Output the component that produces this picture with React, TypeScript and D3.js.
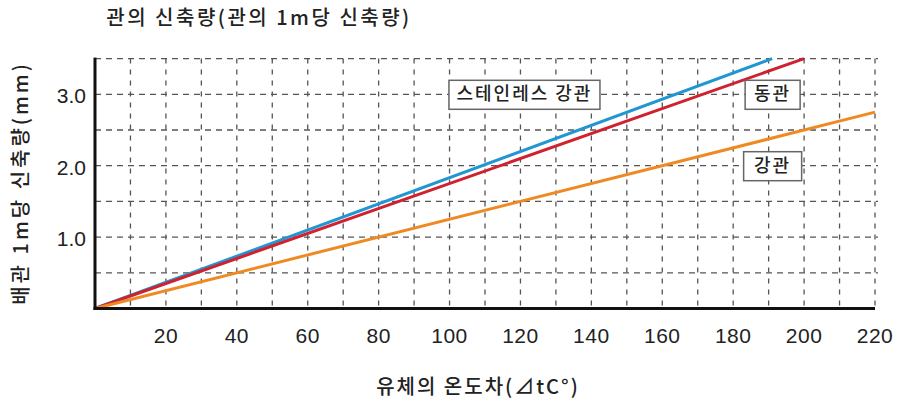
import React from "react";
import * as d3 from "d3";

const W = 899;
const H = 403;

const title = "관의 신축량(관의 1m당 신축량)";
const xTitle = "유체의 온도차(⊿tC°)";
const yTitle = "배관 1m당 신축량(mm)";

const xTickValues = [20, 40, 60, 80, 100, 120, 140, 160, 180, 200, 220];
const yTickValues = [1.0, 2.0, 3.0];
const xGridValues = [10, 20, 30, 40, 50, 60, 70, 80, 90, 100, 110, 120, 130, 140, 150, 160, 170, 180, 190, 200, 210, 220];
const yGridValues = [0.5, 1.0, 1.5, 2.0, 2.5, 3.0, 3.5];

const seriesNames = ["스테인레스 강관", "동관", "강관"];
const seriesColors = ["#2196d3", "#d0212e", "#ef8a22"];
const stainlessX = [0, 191];
const stainlessY = [0, 3.5];
const copperX = [0, 200];
const copperY = [0, 3.5];
const steelX = [0, 220];
const steelY = [0, 2.75];

const labelPos = [
  { x: 120, y: 3.0, w: 151 },
  { x: 190, y: 3.0, w: 55 },
  { x: 190, y: 2.0, w: 58 },
];

export default function App() {
  const x = d3.scaleLinear().domain([0, 220]).range([95, 875]);
  const y = d3.scaleLinear().domain([0, 3.0]).range([308.5, 94.3]);
  const line = d3
    .line<[number, number]>()
    .x((d) => x(d[0]))
    .y((d) => y(d[1]));

  const series = [
    { xs: stainlessX, ys: stainlessY },
    { xs: copperX, ys: copperY },
    { xs: steelX, ys: steelY },
  ];

  const font = "'Liberation Sans', Arial, sans-serif";
  const kfont = "'Noto Sans CJK KR', 'Noto Sans', sans-serif";
  const gridColor = "#555";

  return (
    <svg width={W} height={H} style={{ position: "absolute", left: 0, top: 0, background: "#fff" }}>
      <rect x={0} y={0} width={W} height={H} fill="#fff" />
      {/* grid */}
      {yGridValues.map((v) => (
        <line
          key={"hy" + v}
          x1={x(0)}
          x2={x(220) + 3}
          y1={y(v)}
          y2={y(v)}
          stroke={gridColor}
          strokeWidth={1.3}
          strokeDasharray="6 5"
        />
      ))}
      {xGridValues.map((v) => (
        <line
          key={"vx" + v}
          x1={x(v)}
          x2={x(v)}
          y1={y(3.5)}
          y2={y(0)}
          stroke={gridColor}
          strokeWidth={1.3}
          strokeDasharray="5 6"
        />
      ))}
      {/* lines */}
      {series.map((s, i) => (
        <path
          key={"s" + i}
          d={line(s.xs.map((xv, j) => [xv, s.ys[j]] as [number, number])) || ""}
          fill="none"
          stroke={seriesColors[i]}
          strokeWidth={3}
        />
      ))}
      {/* axes */}
      <line x1={x(0)} x2={x(0)} y1={y(3.5) - 1} y2={y(0) + 1.5} stroke="#111" strokeWidth={3} />
      <line x1={x(0) - 1.5} x2={x(220)} y1={y(0)} y2={y(0)} stroke="#111" strokeWidth={3} />
      {/* tick labels */}
      {xTickValues.map((v) => (
        <text
          key={"xt" + v}
          x={x(v)}
          y={343}
          textAnchor="middle"
          fontFamily={font}
          fontSize={21}
          fill="#222"
          letterSpacing={0.5}
        >
          {v}
        </text>
      ))}
      {yTickValues.map((v) => (
        <text
          key={"yt" + v}
          x={86}
          y={y(v) + 9}
          textAnchor="end"
          fontFamily={font}
          fontSize={21}
          fill="#222"
        >
          {v.toFixed(1)}
        </text>
      ))}
      {/* series labels */}
      {seriesNames.map((n, i) => {
        const p = labelPos[i];
        const cx = x(p.x) + 4;
        const cy = y(p.y);
        return (
          <g key={"lab" + i}>
            <rect
              x={cx - p.w / 2}
              y={cy - 14}
              width={p.w}
              height={29}
              fill="#fff"
              stroke="#666"
              strokeWidth={1.5}
            />
            <text
              x={cx}
              y={cy + 1}
              textAnchor="middle"
              dominantBaseline="middle"
              fontFamily={kfont}
              fontSize={18}
              fontWeight={500}
              letterSpacing={2}
              fill="#222"
            >
              {n}
            </text>
          </g>
        );
      })}
      {/* titles */}
      <text
        x={259}
        y={20}
        textAnchor="middle"
        dominantBaseline="middle"
        fontFamily={kfont}
        fontSize={20}
        fontWeight={500}
        letterSpacing={2.5}
        fill="#222"
      >
        {title}
      </text>
      <text
        x={478}
        y={389}
        textAnchor="middle"
        dominantBaseline="middle"
        fontFamily={kfont}
        fontSize={20}
        fontWeight={500}
        letterSpacing={2}
        fill="#222"
      >
        {xTitle}
      </text>
      <text
        transform={`translate(23,${183}) rotate(-90)`}
        textAnchor="middle"
        dominantBaseline="middle"
        fontFamily={kfont}
        fontSize={20}
        fontWeight={500}
        letterSpacing={3}
        fill="#222"
      >
        {yTitle}
      </text>
    </svg>
  );
}
